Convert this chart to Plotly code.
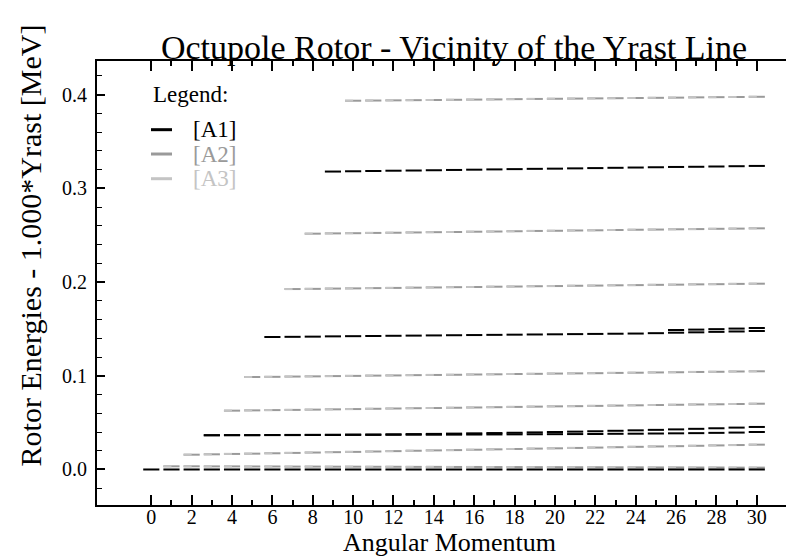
import plotly.graph_objects as go

# ---------------- data ----------------
# Each level: first angular momentum I and energies (MeV, relative to yrast) for I = start..30
L0_start = 0
L0 = [0.0, 0.0, 0.0, 0.0, 0.0, 0.0, 0.0, 0.0, 0.0, 0.0,
      0.0, 0.0, 0.0, 0.0, 0.0, 0.0, 0.0, 0.0, 0.0, 0.0,
      0.0, 0.0, 0.0, 0.0, 0.0, 0.0, 0.0, 0.0, 0.0, 0.0, 0.0]

L0b_start = 1
L0b = [0.0034, 0.0034, 0.0033, 0.0033, 0.0032, 0.0032, 0.0031, 0.0031, 0.0030, 0.0030,
       0.0029, 0.0029, 0.0028, 0.0028, 0.0027, 0.0027, 0.0026, 0.0026, 0.0025, 0.0025,
       0.0024, 0.0024, 0.0023, 0.0023, 0.0022, 0.0022, 0.0021, 0.0021, 0.0020, 0.0020]

L1_start = 2
L1 = [0.0158, 0.0162, 0.0166, 0.0169, 0.0173, 0.0177, 0.0181, 0.0185, 0.0188, 0.0192,
      0.0196, 0.0200, 0.0204, 0.0207, 0.0211, 0.0215, 0.0219, 0.0223, 0.0226, 0.0230,
      0.0234, 0.0238, 0.0242, 0.0246, 0.0249, 0.0253, 0.0257, 0.0261, 0.0265]

L2a_start = 3
L2a = [0.0366, 0.0367, 0.0367, 0.0368, 0.0369, 0.0370, 0.0371, 0.0373, 0.0374, 0.0376,
       0.0378, 0.0380, 0.0383, 0.0386, 0.0389, 0.0392, 0.0396, 0.0400, 0.0404, 0.0408,
       0.0413, 0.0418, 0.0423, 0.0428, 0.0434, 0.0440, 0.0447, 0.0454]

L2b_start = 3
L2b = [0.0365, 0.0366, 0.0366, 0.0367, 0.0367, 0.0368, 0.0368, 0.0369, 0.0369, 0.0370,
       0.0371, 0.0371, 0.0372, 0.0373, 0.0374, 0.0375, 0.0376, 0.0377, 0.0378, 0.0379,
       0.0381, 0.0382, 0.0384, 0.0386, 0.0388, 0.0391, 0.0394, 0.0400]

L3_start = 4
L3 = [0.0628, 0.0631, 0.0634, 0.0636, 0.0639, 0.0642, 0.0645, 0.0648, 0.0651, 0.0654,
      0.0656, 0.0659, 0.0662, 0.0665, 0.0668, 0.0671, 0.0674, 0.0676, 0.0679, 0.0682,
      0.0685, 0.0688, 0.0691, 0.0694, 0.0696, 0.0699, 0.0702]

L4_start = 5
L4 = [0.0987, 0.0989, 0.0992, 0.0994, 0.0997, 0.0999, 0.1002, 0.1004, 0.1007, 0.1009,
      0.1011, 0.1014, 0.1016, 0.1019, 0.1021, 0.1024, 0.1026, 0.1028, 0.1031, 0.1033,
      0.1036, 0.1038, 0.1041, 0.1043, 0.1046, 0.1048]

L5_start = 6
L5 = [0.1414, 0.1416, 0.1418, 0.1421, 0.1423, 0.1425, 0.1427, 0.1429, 0.1431, 0.1433,
      0.1435, 0.1437, 0.1439, 0.1441, 0.1443, 0.1445, 0.1447, 0.1449, 0.1451, 0.1455,
      0.1460, 0.1464, 0.1469, 0.1473, 0.1478]

L5b_start = 26
L5b = [0.1489, 0.1493, 0.1498, 0.1504, 0.1510]

L6_start = 7
L6 = [0.1926, 0.1928, 0.1931, 0.1933, 0.1936, 0.1938, 0.1941, 0.1943, 0.1946, 0.1948,
      0.1951, 0.1953, 0.1956, 0.1958, 0.1961, 0.1963, 0.1966, 0.1968, 0.1971, 0.1973,
      0.1976, 0.1978, 0.1981, 0.1983]

L7_start = 8
L7 = [0.2517, 0.2520, 0.2522, 0.2525, 0.2527, 0.2530, 0.2533, 0.2535, 0.2538, 0.2540,
      0.2543, 0.2546, 0.2548, 0.2551, 0.2553, 0.2556, 0.2559, 0.2561, 0.2564, 0.2566,
      0.2569, 0.2571, 0.2574]

L8_start = 9
L8 = [0.3180, 0.3183, 0.3186, 0.3189, 0.3191, 0.3194, 0.3197, 0.3200, 0.3203, 0.3206,
      0.3209, 0.3211, 0.3214, 0.3217, 0.3220, 0.3223, 0.3226, 0.3229, 0.3231, 0.3234,
      0.3237, 0.3240]

L9_start = 10
L9 = [0.3936, 0.3938, 0.3940, 0.3942, 0.3944, 0.3946, 0.3948, 0.3950, 0.3953, 0.3955,
      0.3957, 0.3959, 0.3961, 0.3963, 0.3965, 0.3967, 0.3969, 0.3972, 0.3974, 0.3976,
      0.3978]

# series membership
A1_levels = [(L0_start, L0), (L2a_start, L2a), (L2b_start, L2b), (L5_start, L5),
             (L5b_start, L5b), (L8_start, L8)]
A2_levels = [(L0b_start, L0b), (L1_start, L1), (L3_start, L3), (L4_start, L4),
             (L6_start, L6), (L7_start, L7), (L9_start, L9)]
A3_levels = A2_levels  # degenerate with A2

series_names = ["[A1]", "[A2]", "[A3]"]
series_colors = ["#000000", "#9a9a9a", "#c4c4c4"]

x_tick_vals = list(range(0, 31, 2))
x_minor_vals = list(range(1, 31, 2))
y_tick_vals = [0.0, 0.1, 0.2, 0.3, 0.4]
y_tick_text = ["0.0", "0.1", "0.2", "0.3", "0.4"]

# ---------------- figure ----------------
def segments(levels, lo, hi):
    xs, ys = [], []
    for start, vals in levels:
        for k, e in enumerate(vals):
            i = start + k
            xs += [i + lo, i + hi, None]
            ys += [e, e, None]
    return xs, ys

C1, C2, C3 = series_colors
FONT = "Liberation Serif, Times New Roman, serif"

fig = go.Figure()
x2, y2 = segments(A2_levels, -0.4, 0.4)
fig.add_trace(go.Scatter(x=x2, y=y2, mode="lines", line=dict(color=C2, width=2),
                         name=series_names[1], hoverinfo="skip", showlegend=False))
x3, y3 = segments(A3_levels, -0.4, 0.0)
fig.add_trace(go.Scatter(x=x3, y=y3, mode="lines", line=dict(color=C3, width=2),
                         name=series_names[2], hoverinfo="skip", showlegend=False))
x1, y1 = segments(A1_levels, -0.4, 0.4)
fig.add_trace(go.Scatter(x=x1, y=y1, mode="lines", line=dict(color=C1, width=2),
                         name=series_names[0], hoverinfo="skip", showlegend=False))

# legend drawn as text + short sample lines (paper coordinates)
ann = [dict(text="Legend:", x=0.0766, y=0.924, xref="paper", yref="paper",
            xanchor="left", yanchor="middle", showarrow=False,
            font=dict(family=FONT, size=23, color="black"))]
shapes = []
leg_y = [0.8453, 0.7905, 0.7349]
for name, col, yy in zip(series_names, series_colors, leg_y):
    ann.append(dict(text=name, x=0.1333, y=yy, xref="paper", yref="paper",
                    xanchor="left", yanchor="middle", showarrow=False,
                    font=dict(family=FONT, size=23, color=col)))
    shapes.append(dict(type="line", xref="paper", yref="paper",
                       x0=0.0766, x1=0.1064, y0=yy, y1=yy,
                       line=dict(color=col, width=3)))

# y axis title (placed as in the reference, above plot centre)
ann.append(dict(text="Rotor Energies - 1.000*Yrast [MeV]", x=-0.094, y=0.584,
                xref="paper", yref="paper", xanchor="center", yanchor="middle",
                textangle=-90, showarrow=False,
                font=dict(family=FONT, size=30, color="black")))

fig.update_layout(
    width=794, height=556,
    margin=dict(l=89, r=0, t=53, b=59),
    paper_bgcolor="white", plot_bgcolor="white",
    font=dict(family=FONT, color="black", size=20),
    title=dict(text="Octupole Rotor - Vicinity of the Yrast Line",
               font=dict(family=FONT, size=34, color="black"),
               x=446 / 794, xanchor="center", y=1 - 39 / 556, yanchor="middle",
               xref="container", yref="container"),
    showlegend=False,
    annotations=ann,
    shapes=shapes,
    xaxis=dict(range=[-2.69, 32.24], showgrid=False, zeroline=False,
               showline=True, linecolor="black", linewidth=2, mirror="ticks",
               ticks="inside", ticklen=10, tickwidth=2, tickcolor="black",
               tickvals=x_tick_vals, ticktext=[str(v) for v in x_tick_vals],
               tickfont=dict(family=FONT, size=20), ticklabelstandoff=-7,
               minor=dict(tickvals=x_minor_vals, ticks="inside", ticklen=5,
                          tickwidth=1.5, tickcolor="black"),
               title=dict(text="Angular Momentum", font=dict(family=FONT, size=26),
                          standoff=1)),
    yaxis=dict(range=[-0.0379, 0.436], showgrid=False, zeroline=False,
               showline=True, linecolor="black", linewidth=2, mirror=False,
               ticks="inside", ticklen=8, tickwidth=2, tickcolor="black",
               tickvals=y_tick_vals, ticktext=y_tick_text,
               tickfont=dict(family=FONT, size=20), ticklabelstandoff=4,
               minor=dict(dtick=0.02, tick0=0, ticks="inside", ticklen=5,
                          tickwidth=1, tickcolor="black")),
    yaxis2=dict(range=[-0.0379, 0.436], overlaying="y", side="right",
                showgrid=False, zeroline=False, showline=False,
                ticks="inside", ticklen=3, tickwidth=2, tickcolor="black",
                tickvals=y_tick_vals, showticklabels=False),
)

fig.write_html("out.html")
